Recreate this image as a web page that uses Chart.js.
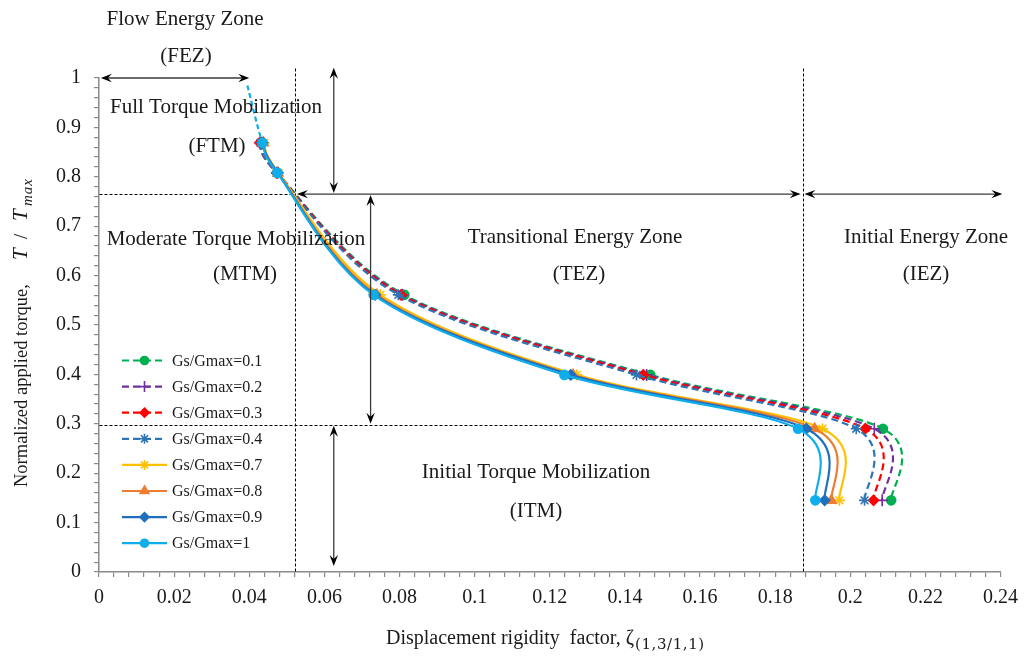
<!DOCTYPE html>
<html lang="en">
<head>
<meta charset="UTF-8">
<title>Torque mobilization vs displacement rigidity factor</title>
<script src="https://cdn.jsdelivr.net/npm/chart.js"></script>
<style>
  body { margin: 0; background: #fff; }
  .wrap { position: relative; width: 1027px; height: 660px; }
</style>
</head>
<body>
<div class="wrap"><canvas id="torqueChart"></canvas></div>
<script>
// normalized applied torque T/Tmax at each marker level
const torqueLevels = [0.869, 0.808, 0.561, 0.399, 0.29, 0.145];

// displacement rigidity factor for each Gs/Gmax ratio, one value per torque level
const zeta01 = [0.0435, 0.0475, 0.0813, 0.1468, 0.2087, 0.2109];
const zeta02 = [0.0433, 0.0474, 0.0808, 0.1458, 0.2064, 0.2085];
const zeta03 = [0.0428, 0.0473, 0.0804, 0.1449, 0.2040, 0.2062];
const zeta04 = [0.0430, 0.0473, 0.0797, 0.1431, 0.2016, 0.2038];
const zeta07 = [0.0440, 0.0478, 0.0749, 0.1272, 0.1926, 0.1971];
const zeta08 = [0.0438, 0.0477, 0.0740, 0.1262, 0.1905, 0.1950];
const zeta09 = [0.0436, 0.0476, 0.0735, 0.1256, 0.1883, 0.1932];
const zeta10 = [0.0435, 0.0475, 0.0731, 0.1239, 0.1861, 0.1907];

// flow part of the Gs/Gmax=1 curve (dashed, no marker)
const flowTailZeta = [0.0395];
const flowTailTorque = [0.985];

const xTicks = [0, 0.02, 0.04, 0.06, 0.08, 0.1, 0.12, 0.14, 0.16, 0.18, 0.2, 0.22, 0.24];
const yTicks = [0, 0.1, 0.2, 0.3, 0.4, 0.5, 0.6, 0.7, 0.8, 0.9, 1];

const serif = "'Liberation Serif', 'Times New Roman', serif";
const axisGray = '#8a8a8a';
const smoothK = 0.16; // tangent factor for the smoothed curves

const series = [
  { label: 'Gs/Gmax=0.1', zeta: zeta01, color: '#00B050', marker: 'circle',    radius: 4.5, dashed: true },
  { label: 'Gs/Gmax=0.2', zeta: zeta02, color: '#7030A0', marker: 'cross',     radius: 6,   dashed: true },
  { label: 'Gs/Gmax=0.3', zeta: zeta03, color: '#FF0000', marker: 'rectRot',   radius: 5,   dashed: true },
  { label: 'Gs/Gmax=0.4', zeta: zeta04, color: '#2E75B6', marker: 'star',      radius: 5.5, dashed: true },
  { label: 'Gs/Gmax=0.7', zeta: zeta07, color: '#FFC000', marker: 'star',      radius: 5.5, dashed: false },
  { label: 'Gs/Gmax=0.8', zeta: zeta08, color: '#ED7D31', marker: 'triangle',  radius: 5.5, dashed: false },
  { label: 'Gs/Gmax=0.9', zeta: zeta09, color: '#1F6FBF', marker: 'rectRot',   radius: 5,   dashed: false },
  { label: 'Gs/Gmax=1',   zeta: zeta10, color: '#0FAEEB', marker: 'circle',    radius: 4.5, dashed: false, tail: true }
];

const datasets = series.map((s, i) => {
  let pts = s.zeta.map((x, k) => ({ x: x, y: torqueLevels[k] }));
  let radius = s.radius;
  const ds = {
    label: s.label,
    showLine: true,
    fill: false,
    tension: 0.4,
    borderColor: s.color,
    backgroundColor: s.color,
    borderWidth: 2.2,
    borderDash: s.dashed ? [7, 4] : [],
    pointStyle: s.marker,
    pointBackgroundColor: s.color,
    pointBorderColor: s.color,
    pointBorderWidth: 1.6,
    order: series.length - 1 - i
  };
  if (s.tail) {
    const head = flowTailZeta.map((x, k) => ({ x: x, y: flowTailTorque[k] }));
    pts = head.concat(pts);
    radius = pts.map((p, k) => (k < head.length ? 0 : s.radius));
    ds.segment = { borderDash: ctx => (ctx.p0DataIndex < head.length ? [5, 3] : undefined) };
  }
  ds.data = pts;
  ds.pointRadius = radius;
  return ds;
});

function tickLabel(list, v) {
  const hit = list.find(t => Math.abs(t - v) < 1e-9);
  return hit === undefined ? '' : String(hit);
}

// zone boundaries and arrows, in axis units
const zoneLines = [
  { x1: 0.0522, y1: 1.02, x2: 0.0522, y2: 0 },
  { x1: 0.1873, y1: 1.02, x2: 0.1873, y2: 0 },
  { x1: 0, y1: 0.765, x2: 0.0522, y2: 0.765 },
  { x1: 0, y1: 0.298, x2: 0.1873, y2: 0.298 }
];
const zoneArrows = [
  { x1: 0.0005, y1: 1, x2: 0.04, y2: 1 },
  { x1: 0.0625, y1: 1.021, x2: 0.0625, y2: 0.767 },
  { x1: 0.0527, y1: 0.765, x2: 0.1868, y2: 0.765 },
  { x1: 0.1878, y1: 0.765, x2: 0.2405, y2: 0.765 },
  { x1: 0.0723, y1: 0.763, x2: 0.0723, y2: 0.3 },
  { x1: 0.0625, y1: 0.296, x2: 0.0625, y2: 0.012 }
];
// zone captions: [text, center x px, baseline y px]
const captions = [
  ['Flow Energy Zone', 185, 25], ['(FEZ)', 186, 62],
  ['Full Torque Mobilization', 216, 113], ['(FTM)', 217, 152],
  ['Moderate Torque Mobilization', 236, 245], ['(MTM)', 245, 280],
  ['Transitional Energy Zone', 575, 243], ['(TEZ)', 579, 280],
  ['Initial Energy Zone', 926, 243], ['(IEZ)', 926, 280],
  ['Initial Torque Mobilization', 536, 478], ['(ITM)', 536, 517]
];

// Excel-style smoothing: tangent at each point follows its two neighbours
const smoothPlugin = {
  id: 'smooth',
  beforeDatasetDraw(chart, args) {
    const meta = args.meta;
    const pts = meta.data;
    const n = pts.length;
    for (let i = 0; i < n; i++) {
      const p = pts[i];
      const prev = pts[Math.max(0, i - 1)];
      const next = pts[Math.min(n - 1, i + 1)];
      const tx = (next.x - prev.x) * smoothK;
      const ty = (next.y - prev.y) * smoothK;
      p.cp1x = p.x - tx; p.cp1y = p.y - ty;
      p.cp2x = p.x + tx; p.cp2y = p.y + ty;
    }
    if (meta.dataset) meta.dataset._pointsUpdated = true;
  }
};

function arrowHead(ctx, tx, ty, dx, dy) {
  const len = 11, half = 4.2, notch = 7;
  const px = -dy, py = dx;
  const bx = tx - dx * len, by = ty - dy * len;
  ctx.beginPath();
  ctx.moveTo(tx, ty);
  ctx.lineTo(bx + px * half, by + py * half);
  ctx.lineTo(tx - dx * notch, ty - dy * notch);
  ctx.lineTo(bx - px * half, by - py * half);
  ctx.closePath();
  ctx.fill();
}

const zonePlugin = {
  id: 'zones',
  beforeDatasetsDraw(chart) {
    const { ctx, scales: { x, y } } = chart;
    ctx.save();
    ctx.strokeStyle = '#000';
    ctx.lineWidth = 1;
    ctx.setLineDash([3, 2]);
    zoneLines.forEach(l => {
      ctx.beginPath();
      ctx.moveTo(Math.round(x.getPixelForValue(l.x1)) + 0.5, Math.round(y.getPixelForValue(l.y1)) + 0.5);
      ctx.lineTo(Math.round(x.getPixelForValue(l.x2)) + 0.5, Math.round(y.getPixelForValue(l.y2)) + 0.5);
      ctx.stroke();
    });
    ctx.restore();
  },
  afterDraw(chart) {
    const { ctx, scales: { x, y } } = chart;
    ctx.save();
    // double-headed arrows
    ctx.strokeStyle = '#3a3a3a';
    ctx.fillStyle = '#000';
    ctx.lineWidth = 1.3;
    zoneArrows.forEach(a => {
      const ax = x.getPixelForValue(a.x1), ay = y.getPixelForValue(a.y1);
      const bx = x.getPixelForValue(a.x2), by = y.getPixelForValue(a.y2);
      const d = Math.hypot(bx - ax, by - ay);
      const ux = (bx - ax) / d, uy = (by - ay) / d;
      ctx.beginPath();
      ctx.moveTo(ax + ux * 6, ay + uy * 6);
      ctx.lineTo(bx - ux * 6, by - uy * 6);
      ctx.stroke();
      arrowHead(ctx, ax, ay, -ux, -uy);
      arrowHead(ctx, bx, by, ux, uy);
    });

    // zone captions
    ctx.fillStyle = '#1a1a1a';
    ctx.font = '21px ' + serif;
    ctx.textAlign = 'center';
    ctx.textBaseline = 'alphabetic';
    captions.forEach(c => ctx.fillText(c[0], c[1], c[2]));

    // x axis title with zeta subscript
    ctx.textAlign = 'left';
    ctx.font = '20px ' + serif;
    const xt = 'Displacement rigidity  factor, ';
    let cx = 386;
    ctx.fillText(xt, cx, 644);
    cx += ctx.measureText(xt).width;
    ctx.fillText('\u03B6', cx, 644);
    cx += ctx.measureText('\u03B6').width + 1;
    ctx.font = "15px 'DejaVu Serif', serif";
    ctx.letterSpacing = '0.6px';
    ctx.fillText('(1,3/1,1)', cx, 649);
    ctx.letterSpacing = '0px';

    // y axis title, rotated
    ctx.save();
    ctx.translate(27, 487);
    ctx.rotate(-Math.PI / 2);
    ctx.font = '18.5px ' + serif;
    ctx.fillText('Normalized applied torque,', 0, 0);
    ctx.font = 'italic 21px ' + serif;
    ctx.fillText('T', 227, 0);
    ctx.font = '19px ' + serif;
    ctx.fillText('/', 248, 0);
    ctx.font = 'italic 21px ' + serif;
    ctx.fillText('T', 266, 0);
    ctx.font = 'italic 15px ' + serif;
    ctx.letterSpacing = '1px';
    ctx.fillText('max', 281, 5);
    ctx.letterSpacing = '0px';
    ctx.restore();

    // legend inside plot area
    const lx0 = 122, lx1 = 167, ly0 = 360.5, ldy = 26.1;
    series.forEach((s, i) => {
      const ly = ly0 + i * ldy;
      ctx.strokeStyle = s.color;
      ctx.lineWidth = 2.2;
      ctx.setLineDash(s.dashed ? [7, 4] : []);
      ctx.beginPath();
      ctx.moveTo(lx0, ly);
      ctx.lineTo(s.dashed ? lx1 - 3 : lx1, ly);
      ctx.stroke();
      ctx.setLineDash([]);
      ctx.fillStyle = s.color;
      ctx.lineWidth = 1.6;
      if (Chart.helpers && Chart.helpers.drawPoint) {
        Chart.helpers.drawPoint(ctx, { pointStyle: s.marker, radius: s.radius - 0.5, rotation: 0, borderWidth: 1.6 }, 144.5, ly);
      } else {
        ctx.beginPath();
        ctx.arc(144.5, ly, 4, 0, Math.PI * 2);
        ctx.fill();
      }
      ctx.fillStyle = '#1a1a1a';
      ctx.font = '16px ' + serif;
      ctx.textAlign = 'left';
      ctx.textBaseline = 'middle';
      ctx.fillText(s.label, 172, ly + 1);
    });
    ctx.restore();
  }
};

new Chart(document.getElementById('torqueChart'), {
  type: 'scatter',
  data: { datasets: datasets },
  options: {
    responsive: true,
    maintainAspectRatio: false,
    animation: false,
    layout: { padding: { top: 78, right: 22, left: 0, bottom: 0 } },
    plugins: { legend: { display: false }, tooltip: { enabled: false } },
    scales: {
      x: {
        type: 'linear', min: 0, max: 0.24,
        border: { display: true, color: axisGray, width: 1.5 },
        grid: { drawOnChartArea: false, drawTicks: true, tickLength: 5, color: axisGray, lineWidth: 1.2 },
        ticks: {
          stepSize: 0.004, autoSkip: false, maxRotation: 0, minRotation: 0, padding: 9,
          color: '#1a1a1a', font: { family: serif, size: 20 },
          callback: v => tickLabel(xTicks, v)
        },
        afterFit: s => { s.height = 88; }
      },
      y: {
        type: 'linear', min: 0, max: 1,
        border: { display: true, color: axisGray, width: 1.5 },
        grid: { drawOnChartArea: false, drawTicks: true, tickLength: 5, color: axisGray, lineWidth: 1.2 },
        ticks: {
          stepSize: 0.02, autoSkip: false, padding: 13,
          color: '#1a1a1a', font: { family: serif, size: 20 },
          callback: v => tickLabel(yTicks, v)
        },
        afterFit: s => { s.width = 99; }
      }
    }
  },
  plugins: [smoothPlugin, zonePlugin]
});
</script>
</body>
</html>
